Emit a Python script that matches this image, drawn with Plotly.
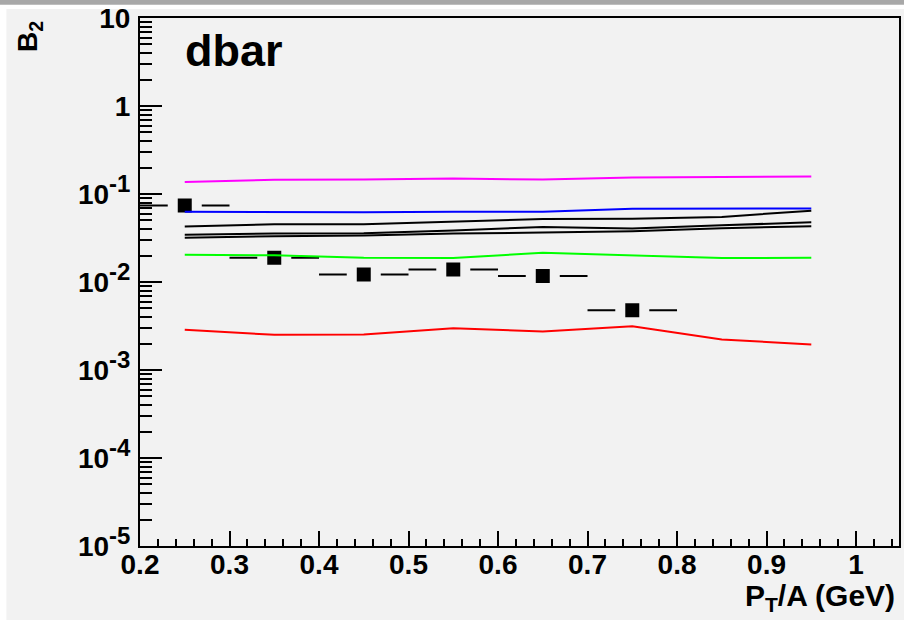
import numpy as np
import plotly.graph_objects as go

# Transverse momentum per nucleon (GeV) at which the model curves are evaluated
pt_model = [0.25, 0.35, 0.45, 0.55, 0.65, 0.75, 0.85, 0.95]

# Coalescence parameter B2 for anti-deuterons, model curves
b2_magenta = [0.137, 0.145, 0.146, 0.150, 0.146, 0.154, 0.156, 0.158]
b2_blue = [0.063, 0.0625, 0.062, 0.063, 0.063, 0.068, 0.0685, 0.0685]
b2_black_a = [0.0426, 0.0454, 0.0454, 0.0487, 0.0521, 0.0525, 0.0549, 0.0647]
b2_black_b = [0.0344, 0.0356, 0.0358, 0.0385, 0.0423, 0.0405, 0.0441, 0.0477]
b2_black_c = [0.0318, 0.0332, 0.0337, 0.0355, 0.0365, 0.0378, 0.0409, 0.0430]
b2_green = [0.0204, 0.0201, 0.0188, 0.0187, 0.0215, 0.0201, 0.0187, 0.0188]
b2_red = [0.00286, 0.00251, 0.00253, 0.00299, 0.00274, 0.00315, 0.00222, 0.00195]

# Measured points with bin half-widths
pt_data = [0.25, 0.35, 0.45, 0.55, 0.65, 0.75]
b2_data = [0.0738, 0.0188, 0.0122, 0.0139, 0.0117, 0.00477]
pt_halfwidth = [0.05, 0.05, 0.05, 0.05, 0.05, 0.05]

# Axis labels
y_tickvals = [1e1, 1e0, 1e-1, 1e-2, 1e-3, 1e-4, 1e-5]
SUP = "<span style='font-size:24px'>%s</span>"
y_ticktext = ["10", "1"] + ["10<sup>" + SUP % e + "</sup>"
                            for e in ["-1", "-2", "-3", "-4", "-5"]]
x_tickvals = [0.2, 0.3, 0.4, 0.5, 0.6, 0.7, 0.8, 0.9, 1.0]
x_ticktext = ["0.2", "0.3", "0.4", "0.5", "0.6", "0.7", "0.8", "0.9", "1"]

BG = "#f2f2f2"
FONT = "Liberation Sans"

fig = go.Figure()

# data points first so the model curves sit on top; the background-coloured
# outline leaves a small gap between the square and its error bar
fig.add_trace(go.Scatter(
    x=pt_data, y=b2_data, mode="markers",
    marker=dict(symbol="square", size=24, color="black",
                line=dict(color=BG, width=10)),
    error_x=dict(type="data", array=pt_halfwidth, thickness=2, width=0,
                 color="black"),
    showlegend=False,
))

for ys, col in [(b2_magenta, "#ff00ff"), (b2_blue, "#0000ff"),
                (b2_black_a, "black"), (b2_black_b, "black"),
                (b2_black_c, "black"), (b2_green, "#00ff00"),
                (b2_red, "#ff0000")]:
    fig.add_trace(go.Scatter(x=pt_model, y=ys, mode="lines",
                             line=dict(color=col, width=2),
                             showlegend=False))

minor_y = [m * 10.0 ** k for k in range(-5, 1) for m in range(2, 10)]
minor_x = [round(v, 2) for v in np.arange(0.2, 1.05, 0.02)]

fig.update_layout(
    width=904, height=620,
    margin=dict(l=140, r=3, t=16, b=74),
    paper_bgcolor="white", plot_bgcolor=BG,
    font=dict(family=FONT, size=28, color="black", weight="bold"),
    xaxis=dict(
        range=[0.2, 1.048], showgrid=False, zeroline=False,
        showline=True, linecolor="black", linewidth=2, mirror=True,
        ticks="inside", ticklen=15, tickwidth=2, tickcolor="black",
        tickvals=x_tickvals, ticktext=x_ticktext, ticklabelstandoff=-8,
        tickfont=dict(size=28, family=FONT, weight="bold"),
        minor=dict(tickvals=minor_x, ticklen=7, tickwidth=1.5,
                   tickcolor="black", ticks="inside", showgrid=False),
    ),
    yaxis=dict(
        type="log", range=[-5, 1], showgrid=False, zeroline=False,
        showline=True, linecolor="black", linewidth=2, mirror=True,
        ticks="inside", ticklen=22, tickwidth=2, tickcolor="black",
        tickvals=y_tickvals, ticktext=y_ticktext, ticklabelstandoff=2,
        tickfont=dict(size=28, family=FONT, weight="bold"),
        minor=dict(tickvals=minor_y, ticklen=12, tickwidth=1.5,
                   tickcolor="black", ticks="inside", showgrid=False),
    ),
    shapes=[
        dict(type="rect", xref="paper", yref="paper", layer="below",
             x0=-0.176, x1=1.01, y0=-0.14, y1=1.017,
             fillcolor=BG, line=dict(width=0)),
        dict(type="rect", xref="paper", yref="paper", layer="below",
             x0=-0.19, x1=1.01, y0=1.025, y1=1.04,
             fillcolor="#a8a8a8", line=dict(width=0)),
    ],
    annotations=[
        dict(text="dbar", xref="paper", yref="paper", x=0.057, y=0.938,
             xanchor="left", yanchor="middle", showarrow=False,
             font=dict(size=45, family=FONT, weight="bold")),
        dict(text="B<sub>2</sub>", xref="paper", yref="paper",
             x=-0.145, y=0.966, xanchor="center", yanchor="middle",
             textangle=-90, showarrow=False,
             font=dict(size=28, family=FONT, weight="bold")),
        dict(text="P<sub>T</sub>/A (GeV)", xref="paper", yref="paper",
             x=0.997, y=-0.098, xanchor="right", yanchor="middle",
             showarrow=False,
             font=dict(size=30, family=FONT, weight="bold")),
    ],
)

fig.write_html("out.html")
